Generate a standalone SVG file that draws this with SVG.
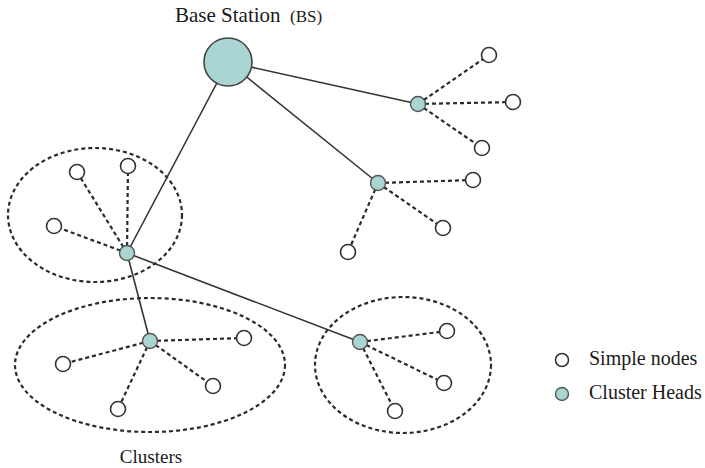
<svg xmlns="http://www.w3.org/2000/svg" width="705" height="468" viewBox="0 0 705 468">
<style>
.t{font-family:"Liberation Serif","Times New Roman",serif;fill:#1a1a1a}
.sn{fill:#fff;stroke:#333;stroke-width:1.6}
.ch{fill:#a9d5d2;stroke:#555;stroke-width:1.4}
.solid{stroke:#333;stroke-width:1.6;fill:none}
.dash{stroke:#2a2a2a;stroke-width:2.2;stroke-dasharray:4 3;fill:none}
.cl{stroke:#2a2a2a;stroke-width:2.2;stroke-dasharray:4 3;fill:none}
</style>
<rect width="705" height="468" fill="#fff"/>
<g id="clusters">
<ellipse class="cl" cx="95" cy="215" rx="87" ry="67"/>
<ellipse class="cl" cx="150" cy="365" rx="135" ry="67"/>
<ellipse class="cl" cx="403" cy="365" rx="88" ry="68"/>
</g>
<g id="connectors">
<line class="solid" x1="228" y1="62" x2="418" y2="104"/>
<line class="solid" x1="228" y1="62" x2="378" y2="183"/>
<line class="solid" x1="228" y1="62" x2="127" y2="253"/>
<line class="solid" x1="127" y1="253" x2="150" y2="341"/>
<line class="solid" x1="127" y1="253" x2="360" y2="342"/>
<line class="dash" x1="418" y1="104" x2="489" y2="55"/>
<line class="dash" x1="418" y1="104" x2="513" y2="102"/>
<line class="dash" x1="418" y1="104" x2="482" y2="148"/>
<line class="dash" x1="378" y1="183" x2="473" y2="180"/>
<line class="dash" x1="378" y1="183" x2="443" y2="228"/>
<line class="dash" x1="378" y1="183" x2="348" y2="252"/>
<line class="dash" x1="127" y1="253" x2="77" y2="172"/>
<line class="dash" x1="127" y1="253" x2="128" y2="166"/>
<line class="dash" x1="127" y1="253" x2="54" y2="226"/>
<line class="dash" x1="150" y1="341" x2="244" y2="338"/>
<line class="dash" x1="150" y1="341" x2="63" y2="364"/>
<line class="dash" x1="150" y1="341" x2="213" y2="386"/>
<line class="dash" x1="150" y1="341" x2="118" y2="409"/>
<line class="dash" x1="360" y1="342" x2="447" y2="331"/>
<line class="dash" x1="360" y1="342" x2="444" y2="383"/>
<line class="dash" x1="360" y1="342" x2="395" y2="411"/>
</g>
<g id="bs"><circle cx="228" cy="62" r="24" fill="#a9d5d2" stroke="#444" stroke-width="1.6"/></g>
<g id="ch1"><circle class="ch" cx="418" cy="104" r="7.5"/></g>
<g id="ch2"><circle class="ch" cx="378" cy="183" r="7.5"/></g>
<g id="ch3"><circle class="ch" cx="127" cy="253" r="7.5"/></g>
<g id="ch4"><circle class="ch" cx="150" cy="341" r="7.5"/></g>
<g id="ch5"><circle class="ch" cx="360" cy="342" r="7.5"/></g>
<g id="simple-nodes">
<circle class="sn" cx="489" cy="55" r="7.5"/>
<circle class="sn" cx="513" cy="102" r="7.5"/>
<circle class="sn" cx="482" cy="148" r="7.5"/>
<circle class="sn" cx="473" cy="180" r="7.5"/>
<circle class="sn" cx="443" cy="228" r="7.5"/>
<circle class="sn" cx="348" cy="252" r="7.5"/>
<circle class="sn" cx="77" cy="172" r="7.5"/>
<circle class="sn" cx="128" cy="166" r="7.5"/>
<circle class="sn" cx="54" cy="226" r="7.5"/>
<circle class="sn" cx="244" cy="338" r="7.5"/>
<circle class="sn" cx="63" cy="364" r="7.5"/>
<circle class="sn" cx="213" cy="386" r="7.5"/>
<circle class="sn" cx="118" cy="409" r="7.5"/>
<circle class="sn" cx="447" cy="331" r="7.5"/>
<circle class="sn" cx="444" cy="383" r="7.5"/>
<circle class="sn" cx="395" cy="411" r="7.5"/>
</g>
<g id="labels">
<text class="t" x="175" y="22" font-size="21">Base Station</text>
<text class="t" x="290" y="22" font-size="17">(BS)</text>
<text class="t" x="151" y="463" font-size="19" text-anchor="middle">Clusters</text>
</g>
<g id="legend">
<circle class="sn" cx="562" cy="360" r="6.5"/>
<text class="t" x="589" y="365" font-size="20">Simple nodes</text>
<circle class="ch" cx="562" cy="394" r="6.5"/>
<text class="t" x="589" y="399" font-size="20">Cluster Heads</text>
</g>
</svg>
